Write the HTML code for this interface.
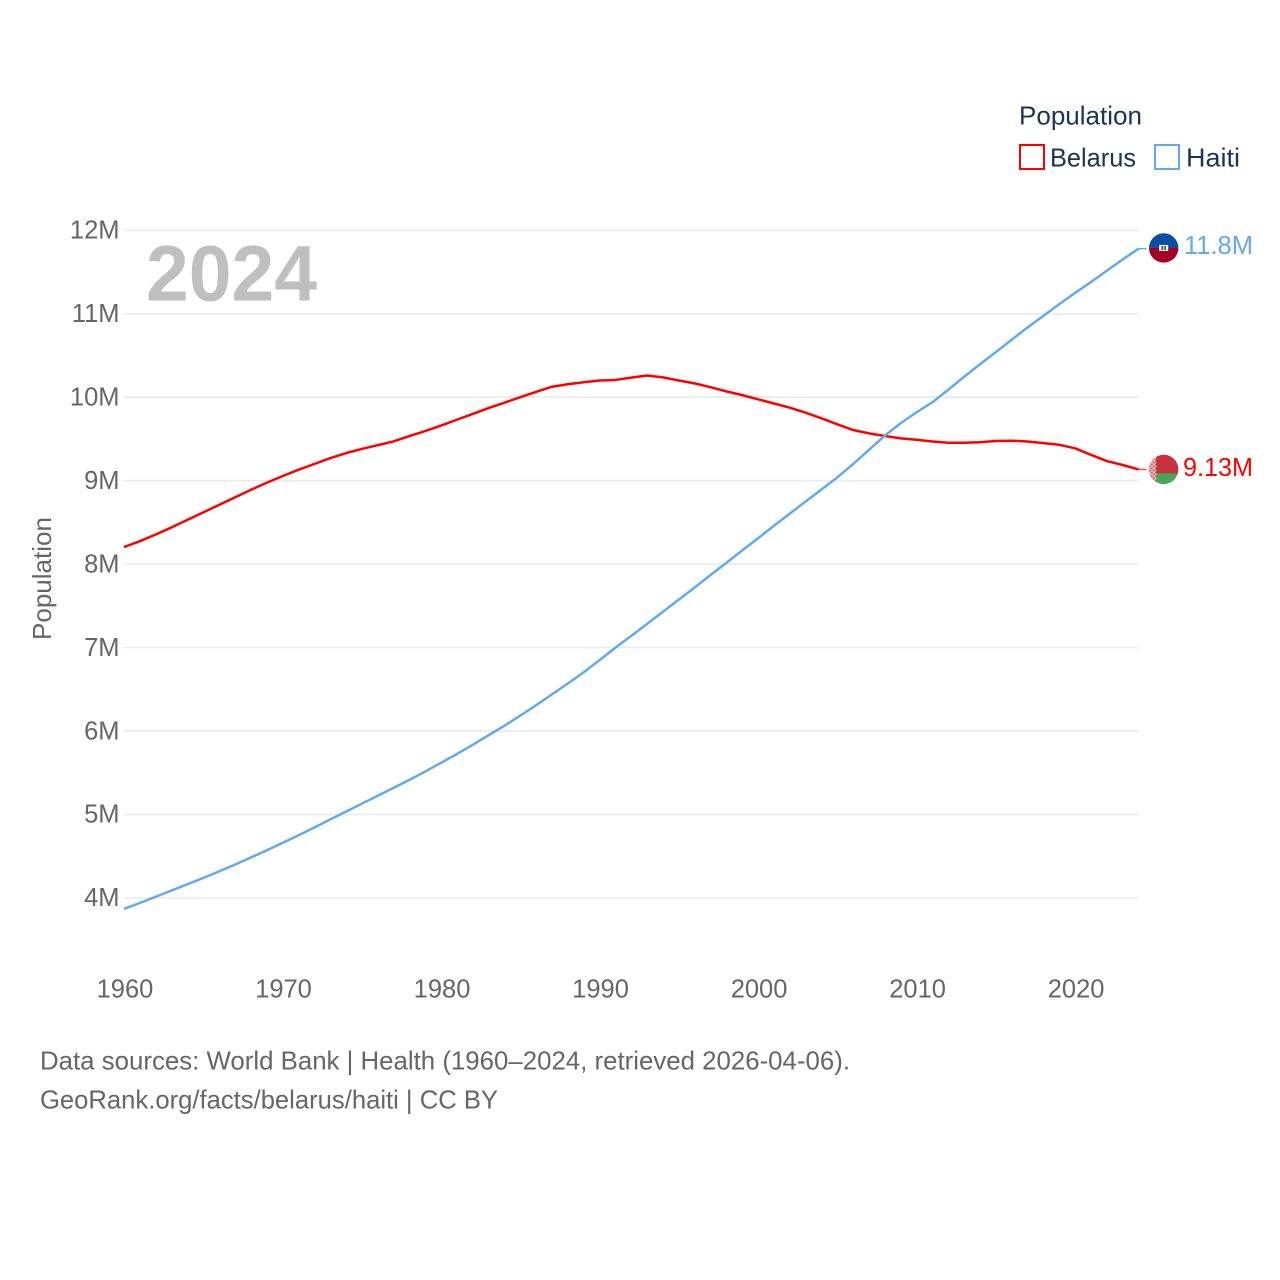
<!DOCTYPE html>
<html lang="en">
<head>
<meta charset="utf-8">
<title>Population: Belarus and Haiti</title>
<style>
html,body{margin:0;padding:0;background:#fff;width:1280px;height:1280px;overflow:hidden}
svg{display:block}
text{font-family:"Liberation Sans",sans-serif}
</style>
</head>
<body>
<svg id="chart" xmlns="http://www.w3.org/2000/svg" width="1280" height="1280" viewBox="0 0 1280 1280">
  <defs>
    <clipPath id="clip-haiti"><circle cx="0" cy="0" r="14.7"/></clipPath>
    <clipPath id="clip-belarus"><circle cx="0" cy="0" r="14.7"/></clipPath>
    <pattern id="belarus-ornament" width="4" height="4" patternUnits="userSpaceOnUse">
      <rect width="4" height="4" fill="#f6dadc"/>
      <rect x="1" y="0" width="2" height="2" fill="#d0505b"/>
      <rect x="3" y="2" width="1" height="2" fill="#d0505b"/>
      <rect x="0" y="2" width="1" height="2" fill="#d0505b"/>
    </pattern>
  </defs>

  <g id="grid"></g>
  <text x="146" y="300.5" font-size="79" font-weight="700" fill="#bfbfbf" textLength="171" lengthAdjust="spacingAndGlyphs">2024</text>
  <g id="y-ticks"></g>
  <g id="x-ticks"></g>
  <text transform="translate(51,578.5) rotate(-90)" text-anchor="middle" font-size="26" fill="#666666" textLength="123" lengthAdjust="spacingAndGlyphs">Population</text>
  <g id="series"></g>

  <g>
    <text x="1019" y="124.5" font-size="26" fill="#1b3555" textLength="123" lengthAdjust="spacingAndGlyphs">Population</text>
    <g>
      <rect x="1020" y="145" width="24" height="24" fill="none" stroke="#ff0000" stroke-width="2"/>
      <text x="1050" y="166.5" font-size="26" fill="#1b3555" textLength="86" lengthAdjust="spacingAndGlyphs">Belarus</text>
    </g>
    <g>
      <rect x="1155" y="145" width="24" height="24" fill="none" stroke="#63a9ee" stroke-width="2"/>
      <text x="1186" y="166.5" font-size="26" fill="#1b3555" textLength="54" lengthAdjust="spacingAndGlyphs">Haiti</text>
    </g>
  </g>

  <g id="flag-haiti">
    <g clip-path="url(#clip-haiti)">
      <rect x="-15" y="-15" width="30" height="15" fill="#0a4ea6"/>
      <rect x="-15" y="0" width="30" height="15" fill="#a50026"/>
      <rect x="-4.5" y="-3" width="9" height="6" fill="#ffffff"/>
      <rect x="-2.5" y="-2" width="5" height="4" fill="#4b7a52"/>
      <rect x="-0.8" y="-2" width="1.6" height="4" fill="#c9b26a"/>
    </g>
  </g>
  <g id="flag-belarus">
    <g clip-path="url(#clip-belarus)">
      <rect x="-15" y="-15" width="30" height="20" fill="#c8313e"/>
      <rect x="-15" y="4" width="30" height="11" fill="#4aa657"/>
      <rect x="-15" y="-15" width="7.5" height="30" fill="url(#belarus-ornament)"/>
    </g>
  </g>
  <text id="label-haiti" x="1184" font-size="26" fill="#63a9ee" textLength="69" lengthAdjust="spacingAndGlyphs">11.8M</text>
  <text id="label-belarus" x="1183" font-size="26" fill="#ff0000" textLength="70" lengthAdjust="spacingAndGlyphs">9.13M</text>

  <text x="40" y="1069.5" font-size="26" fill="#666666" textLength="810" lengthAdjust="spacingAndGlyphs">Data sources: World Bank | Health (1960–2024, retrieved 2026-04-06).</text>
  <text x="40" y="1108.5" font-size="26" fill="#666666" textLength="458" lengthAdjust="spacingAndGlyphs">GeoRank.org/facts/belarus/haiti | CC BY</text>
</svg>

<script>
const startYear = 1960;
const endYear = 2024;
const yTickValues = [4, 5, 6, 7, 8, 9, 10, 11, 12];
const yTickLabels = ["4M", "5M", "6M", "7M", "8M", "9M", "10M", "11M", "12M"];
const xTickValues = [1960, 1970, 1980, 1990, 2000, 2010, 2020];
const xTickLabels = ["1960", "1970", "1980", "1990", "2000", "2010", "2020"];
const belarusValues = [
  8.205, 8.275, 8.355, 8.44, 8.53, 8.62, 8.71, 8.80, 8.89, 8.975,
  9.055, 9.13, 9.20, 9.27, 9.33, 9.38, 9.425, 9.47, 9.535, 9.595,
  9.66, 9.73, 9.80, 9.87, 9.935, 10.0, 10.065, 10.126, 10.155, 10.18,
  10.2, 10.207, 10.235, 10.26, 10.238, 10.2, 10.166, 10.12, 10.07, 10.025,
  9.975, 9.925, 9.875, 9.815, 9.747, 9.675, 9.607, 9.567, 9.535, 9.507,
  9.49, 9.47, 9.455, 9.455, 9.46, 9.475, 9.479, 9.47, 9.45, 9.43,
  9.388, 9.31, 9.235, 9.188, 9.135
];
const haitiValues = [
  3.87, 3.94, 4.015, 4.09, 4.165, 4.24, 4.32, 4.40, 4.485, 4.57,
  4.66, 4.75, 4.845, 4.94, 5.035, 5.13, 5.225, 5.32, 5.415, 5.515,
  5.62, 5.725, 5.835, 5.95, 6.065, 6.185, 6.31, 6.44, 6.57, 6.705,
  6.85, 7.0, 7.14, 7.285, 7.43, 7.575, 7.72, 7.87, 8.015, 8.165,
  8.31, 8.46, 8.605, 8.75, 8.895, 9.04, 9.2, 9.37, 9.54, 9.69,
  9.82, 9.94, 10.09, 10.245, 10.395, 10.54, 10.69, 10.835, 10.975, 11.115,
  11.25, 11.38, 11.515, 11.65, 11.78
];

const NS = "http://www.w3.org/2000/svg";
const plotLeft = 124;
const plotRight = 1138.5;
const plotY12 = 230.3;
const plotY4 = 898;

function xScale(year) {
  return plotLeft + (year - startYear) * (plotRight - plotLeft) / (endYear - startYear);
}
function yScale(v) {
  return plotY4 - (v - 4) * (plotY4 - plotY12) / 8;
}
function make(tag, attrs, parent) {
  const el = document.createElementNS(NS, tag);
  for (const k in attrs) el.setAttribute(k, attrs[k]);
  parent.appendChild(el);
  return el;
}

const gridGroup = document.getElementById("grid");
const yGroup = document.getElementById("y-ticks");
yTickValues.forEach(function (v, i) {
  const ln = make("line", { x1: plotLeft, x2: plotRight, y1: yScale(v), y2: yScale(v), stroke: "#ebebeb", "stroke-width": 1.6 }, gridGroup);
  
  
  const t = make("text", { x: 119.5, y: yScale(v) + 8.2, "text-anchor": "end", "font-size": 25.5, fill: "#666666" }, yGroup);
  t.textContent = yTickLabels[i];
  
  
});

const xGroup = document.getElementById("x-ticks");
xTickValues.forEach(function (yr, i) {
  const t = make("text", { x: xScale(yr) + 1, y: 997.5, "text-anchor": "middle", "font-size": 25.5, fill: "#666666" }, xGroup);
  t.textContent = xTickLabels[i];
  
  
});

function linePath(values) {
  return values.map(function (v, i) {
    return (i ? "L" : "M") + xScale(startYear + i).toFixed(2) + " " + yScale(v).toFixed(2);
  }).join(" ");
}

const seriesGroup = document.getElementById("series");

const belarusLine = make("path", { d: linePath(belarusValues), fill: "none", stroke: "#ff0000", "stroke-width": 2.5, "stroke-linejoin": "round" }, seriesGroup);



const haitiLine = make("path", { d: linePath(haitiValues), fill: "none", stroke: "#63a9ee", "stroke-width": 2.5, "stroke-linejoin": "round" }, seriesGroup);



const belarusEnd = yScale(belarusValues[belarusValues.length - 1]);
const haitiEnd = yScale(haitiValues[haitiValues.length - 1]);

const belarusLeader = make("line", { x1: plotRight, x2: plotRight + 8, y1: belarusEnd, y2: belarusEnd, stroke: "#ff0000", "stroke-opacity": 0.7, "stroke-width": 1.5 }, seriesGroup);



const haitiLeader = make("line", { x1: plotRight, x2: plotRight + 8, y1: haitiEnd, y2: haitiEnd, stroke: "#63a9ee", "stroke-width": 1.5 }, seriesGroup);



document.getElementById("flag-haiti").setAttribute("transform", "translate(1163.7," + (haitiEnd - 0.7) + ")");
document.getElementById("flag-belarus").setAttribute("transform", "translate(1163.7," + belarusEnd + ")");
document.getElementById("label-haiti").setAttribute("y", haitiEnd + 5.5);
document.getElementById("label-belarus").setAttribute("y", belarusEnd + 6.5);
</script>
</body>
</html>
